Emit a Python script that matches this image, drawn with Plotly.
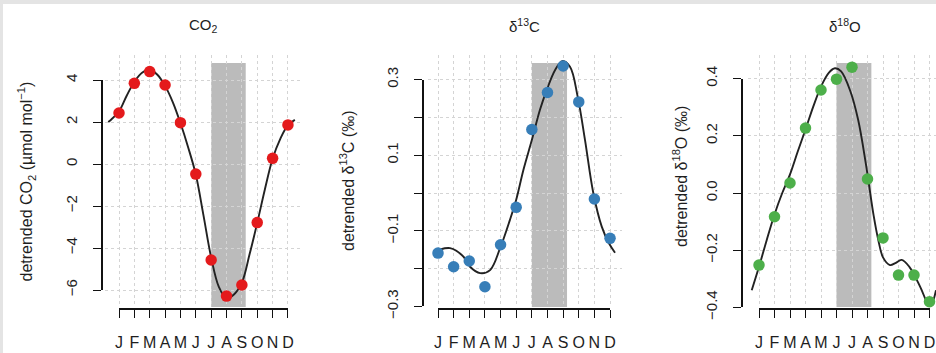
import plotly.graph_objects as go

W, H = 936, 353

months = [1, 2, 3, 4, 5, 6, 7, 8, 9, 10, 11, 12]
month_labels = ["J", "F", "M", "A", "M", "J", "J", "A", "S", "O", "N", "D"]

# monthly detrended values
co2 = [2.43, 3.84, 4.40, 3.76, 1.97, -0.48, -4.57, -6.29, -5.76, -2.79, 0.27, 1.86]
d13c = [-0.159, -0.195, -0.180, -0.248, -0.137, -0.038, 0.168, 0.266, 0.336, 0.241, -0.016, -0.120]
d18o = [-0.252, -0.083, 0.035, 0.227, 0.360, 0.398, 0.440, 0.049, -0.157, -0.287, -0.287, -0.380]

# fitted seasonal curves
co2_fit_x = [0.3, 0.5, 1.0, 1.5, 2.0, 2.5, 3.0, 3.5, 4.0, 4.5, 5.0, 5.5, 6.0, 6.5, 7.0, 7.5, 8.0, 8.5, 9.0, 9.5, 10.0, 10.5, 11.0, 11.5, 12.0, 12.45]
co2_fit_y = [2.0, 2.12, 2.5, 3.25, 3.92, 4.35, 4.5, 4.25, 3.72, 2.95, 1.95, 0.8, -0.5, -2.45, -4.45, -5.85, -6.4, -6.2, -5.65, -4.3, -2.8, -1.2, 0.25, 1.2, 1.85, 2.1]

d13c_fit_x = [0.7, 1.0, 1.77, 2.62, 3.05, 3.69, 4.33, 4.97, 5.6, 6.0, 6.46, 7.0, 7.52, 7.95, 8.48, 8.95, 9.44, 9.93, 10.4, 10.93, 11.47, 11.93, 12.32]
d13c_fit_y = [-0.155, -0.151, -0.146, -0.168, -0.195, -0.212, -0.204, -0.146, -0.071, -0.018, 0.061, 0.14, 0.22, 0.272, 0.325, 0.349, 0.334, 0.255, 0.14, 0.0, -0.089, -0.133, -0.158]

d18o_fit_x = [0.53, 1.0, 1.5, 2.0, 2.5, 3.0, 3.5, 4.0, 4.5, 5.0, 5.5, 5.9, 6.3, 6.9, 7.4, 7.9, 8.4, 8.7, 9.0, 9.45, 9.8, 10.2, 10.7, 11.4, 11.9, 12.1, 12.42]
d18o_fit_y = [-0.34, -0.258, -0.164, -0.075, 0.0, 0.065, 0.145, 0.222, 0.302, 0.372, 0.42, 0.436, 0.425, 0.355, 0.255, 0.1, -0.08, -0.165, -0.225, -0.252, -0.245, -0.234, -0.258, -0.328, -0.386, -0.39, -0.34]

# growing-season shading (month units)
season_start = [7, 7, 6]
season_end = [9.25, 9.25, 8.25]

co2_ticks = [-6, -4, -2, 0, 2, 4]
co2_ticktext = ["\u22126", "\u22124", "\u22122", "0", "2", "4"]
d13c_ticks = [-0.3, -0.1, 0.1, 0.3]
d13c_ticktext = ["\u22120.3", "\u22120.1", "0.1", "0.3"]
d13c_minor = [-0.2, 0.0, 0.2]
d18o_ticks = [-0.4, -0.2, 0.0, 0.2, 0.4]
d18o_ticktext = ["\u22120.4", "\u22120.2", "0.0", "0.2", "0.4"]

titles = ["CO<sub>2</sub>", "\u03b4<sup>13</sup>C", "\u03b4<sup>18</sup>O"]
ytitles = ["detrended CO<sub>2</sub> (\u00b5mol mol<sup>\u22121</sup>)",
           "detrended \u03b4<sup>13</sup>C (\u2030)",
           "detrended \u03b4<sup>18</sup>O (\u2030)"]
colors = ["#E41A1C", "#377EB8", "#4DAF4A"]

FONT = "Liberation Sans, Arial, sans-serif"
TXT = "#1e1e1e"

# pixel layout of each panel
panels = [
    dict(vals=co2, fx=co2_fit_x, fy=co2_fit_y, ticks=co2_ticks, ttext=co2_ticktext, minor=[],
         m1=119, mpx=15.36, v0px=164, vpx=21.0, left=105, right=302, yaxis_px=102,
         title_x=203.5, ytitle_x=26.5, ytitle_y=182),
    dict(vals=d13c, fx=d13c_fit_x, fy=d13c_fit_y, ticks=d13c_ticks, ttext=d13c_ticktext, minor=d13c_minor,
         m1=438, mpx=15.64, v0px=193, vpx=378.0, left=428, right=622, yaxis_px=423,
         title_x=524, ytitle_x=347, ytitle_y=181),
    dict(vals=d18o, fx=d18o_fit_x, fy=d18o_fit_y, ticks=d18o_ticks, ttext=d18o_ticktext, minor=[],
         m1=759, mpx=15.5, v0px=193, vpx=286.0, left=748, right=936, yaxis_px=742,
         title_x=844.5, ytitle_x=680, ytitle_y=177),
]
TOP, BOT = 55, 307
XAXIS_PX = 309

def px2m(p, px):
    return (px - p["m1"]) / p["mpx"] + 1

def px2v(p, py):
    return (p["v0px"] - py) / p["vpx"]

fig = go.Figure()
layout = dict(
    width=W, height=H, margin=dict(l=0, r=0, t=0, b=0, autoexpand=False),
    paper_bgcolor="white", plot_bgcolor="rgba(0,0,0,0)",
    showlegend=False, font=dict(family=FONT, color=TXT),
    shapes=[], annotations=[],
)

for i, p in enumerate(panels):
    k = i + 1
    kd = i + 4
    xs = "" if k == 1 else str(k)
    ys = xs
    # shaded season
    layout["shapes"].append(dict(
        type="rect", xref="x" + xs, yref="paper",
        x0=season_start[i], x1=season_end[i],
        y0=1 - BOT / H, y1=1 - 63 / H,
        fillcolor="#bbbbbb", line=dict(width=0), layer="between"))
    # curve
    fig.add_trace(go.Scatter(x=p["fx"], y=p["fy"], mode="lines",
                             line=dict(color="#222222", width=1.9, shape="spline"),
                             xaxis="x" + xs, yaxis="y" + ys, hoverinfo="skip"))
    # points
    fig.add_trace(go.Scatter(x=months, y=p["vals"], mode="markers",
                             marker=dict(color=colors[i], size=11.5, line=dict(width=0)),
                             cliponaxis=False, xaxis="x" + xs, yaxis="y" + ys))
    # dummy for decorative axes
    fig.add_trace(go.Scatter(x=[months[0]], y=[p["ticks"][0]], mode="markers",
                             marker=dict(opacity=0), hoverinfo="skip",
                             xaxis="x%d" % kd, yaxis="y%d" % kd))

    all_y = sorted(p["ticks"] + p["minor"])
    grid = dict(showgrid=True, gridcolor="#d4d4d4", griddash="dot", gridwidth=1,
                zeroline=False, showline=False, ticks="", showticklabels=False,
                automargin=False)
    layout["xaxis" + xs] = dict(domain=[p["left"] / W, p["right"] / W],
                                range=[px2m(p, p["left"]), px2m(p, p["right"])],
                                anchor="y" + ys, tickmode="array", tickvals=months, **grid)
    layout["yaxis" + ys] = dict(domain=[1 - BOT / H, 1 - TOP / H],
                                range=[px2v(p, BOT), px2v(p, TOP)],
                                anchor="x" + xs, tickmode="array", tickvals=all_y, **grid)

    # decorative detached axes (R style)
    ytop_px = p["v0px"] - p["vpx"] * all_y[-1]
    ybot_px = p["v0px"] - p["vpx"] * all_y[0]
    xr_px = p["m1"] + p["mpx"] * (months[-1] - 1)
    axstyle = dict(showline=True, linecolor="#111111", linewidth=1.6, ticks="outside",
                   ticklen=8, tickwidth=1.4, tickcolor="#111111", showgrid=False,
                   zeroline=False, tickmode="array", anchor="free", automargin=False)
    layout["xaxis%d" % kd] = dict(domain=[p["m1"] / W, xr_px / W],
                                  range=[months[0], months[-1]],
                                  position=1 - XAXIS_PX / H,
                                  tickvals=months, ticktext=month_labels,
                                  tickfont=dict(size=16, family=FONT, color=TXT),
                                  tickangle=0, side="bottom", ticklabelstandoff=11, **axstyle)
    ydeco = dict(domain=[1 - ybot_px / H, 1 - ytop_px / H],
                 range=[all_y[0], all_y[-1]],
                 position=p["yaxis_px"] / W,
                 tickvals=p["ticks"], ticktext=p["ttext"],
                 tickfont=dict(size=15, family=FONT, color=TXT),
                 tickangle=-90, side="left", ticklabelstandoff=10, **axstyle)
    if p["minor"]:
        ydeco["minor"] = dict(tickmode="array", tickvals=p["minor"], ticks="outside",
                              ticklen=8, tickwidth=1.4, tickcolor="#111111", showgrid=False)
    layout["yaxis%d" % kd] = ydeco

    layout["annotations"].append(dict(
        text=titles[i], x=p["title_x"] / W, y=1 - 25 / H, xref="paper", yref="paper",
        showarrow=False, xanchor="center", yanchor="middle",
        font=dict(size=15, family=FONT, color=TXT)))
    layout["annotations"].append(dict(
        text=ytitles[i], x=p["ytitle_x"] / W, y=1 - p["ytitle_y"] / H,
        xref="paper", yref="paper", showarrow=False, textangle=-90,
        xanchor="center", yanchor="middle",
        font=dict(size=16, family=FONT, color=TXT)))

# light frame strips at top and left
layout["shapes"].append(dict(type="rect", xref="paper", yref="paper", x0=0, x1=1,
                             y0=1 - 4 / H, y1=1, fillcolor="#e4e4e4", line=dict(width=0), layer="above"))
layout["shapes"].append(dict(type="rect", xref="paper", yref="paper", x0=0, x1=3 / W,
                             y0=0, y1=1, fillcolor="#e4e4e4", line=dict(width=0), layer="above"))

fig.update_layout(**layout)
fig.write_html("out.html",
               post_script="document.body.style.margin='0';document.body.style.overflow='hidden';")
